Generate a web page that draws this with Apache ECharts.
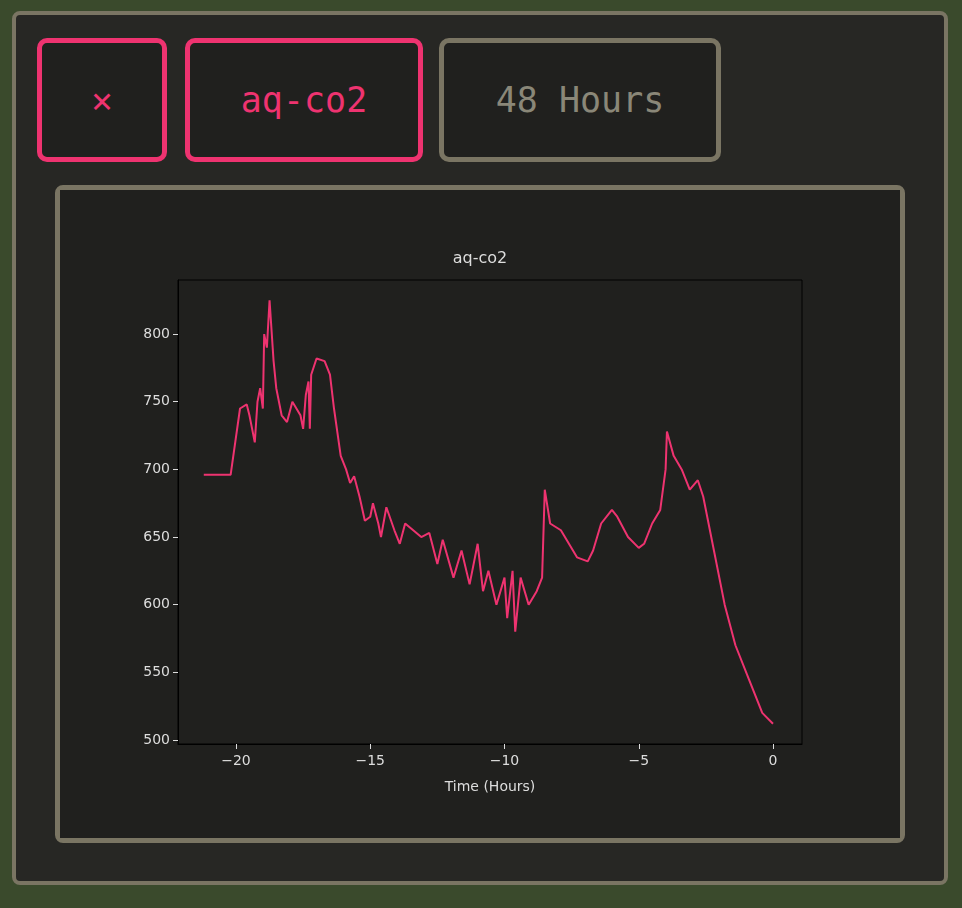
<!DOCTYPE html>
<html>
<head>
<meta charset="utf-8">
<script src="https://cdn.jsdelivr.net/npm/echarts@6/dist/echarts.min.js"></script>
<style>
  body { margin:0; width:962px; height:908px; background:#3a4a2c; font-family:"DejaVu Sans Mono",monospace; overflow:hidden; }
  .outer { position:absolute; left:12px; top:11px; width:928px; height:866px; background:#272724; border:4px solid #7a7563; border-radius:8px; }
  .btn { position:absolute; top:23px; height:124px; background:#20201e; border:5px solid #ee3370; border-radius:10px; color:#ee3370; font-size:35px; display:flex; align-items:center; justify-content:center; box-sizing:border-box; }
  .grey { border-color:#7a7563; color:#8a8778; }
  .panel { position:absolute; left:39px; top:170px; width:840px; height:648px; background:#20201e; border:5px solid #7a7563; border-radius:8px; }
  #chart { width:840px; height:648px; }
</style>
</head>
<body>
<div class="outer">
  <div class="btn" style="left:21px;width:130px;">&#x2715;</div>
  <div class="btn" style="left:169px;width:238px;">aq-co2</div>
  <div class="btn grey" style="left:423px;width:282px;">48 Hours</div>
  <div class="panel"><div id="chart"></div></div>
</div>
<script>
var hours = [-21.2,-20.2,-19.85,-19.6,-19.5,-19.3,-19.2,-19.1,-19.0,-18.95,-18.85,-18.75,-18.6,-18.5,-18.3,-18.1,-17.9,-17.6,-17.5,-17.4,-17.3,-17.25,-17.2,-17.0,-16.7,-16.5,-16.35,-16.1,-15.9,-15.75,-15.6,-15.4,-15.2,-15.0,-14.9,-14.7,-14.6,-14.4,-14.1,-13.9,-13.7,-13.4,-13.1,-12.8,-12.5,-12.3,-11.9,-11.6,-11.3,-11.0,-10.8,-10.6,-10.3,-10.0,-9.9,-9.7,-9.6,-9.4,-9.1,-8.8,-8.6,-8.5,-8.3,-7.9,-7.6,-7.3,-6.9,-6.7,-6.4,-6.0,-5.8,-5.4,-5.0,-4.8,-4.5,-4.2,-4.0,-3.95,-3.7,-3.4,-3.1,-2.8,-2.6,-2.2,-1.8,-1.4,-0.9,-0.4,0];
var co2 = [696,696,745,748,740,720,750,760,745,800,790,825,780,760,740,735,750,740,730,755,765,730,770,782,780,770,745,710,700,690,695,680,662,665,675,660,650,672,655,645,660,655,650,653,630,648,620,640,615,645,610,625,600,620,590,625,580,620,600,610,620,685,660,655,645,635,632,640,660,670,665,650,642,645,660,670,700,728,710,700,685,692,680,640,600,570,545,520,512];
var xTicks = [-20,-15,-10,-5,0];
var yTicks = [500,550,600,650,700,750,800];

var chart = echarts.init(document.getElementById('chart'));
chart.setOption({
  backgroundColor:'#20201e',
  title:{ text:'aq-co2', left:'center', top:56, textStyle:{ color:'#dddddd', fontFamily:'DejaVu Sans', fontSize:16, fontWeight:'normal' } },
  grid:{ left:118, top:90, width:624, height:464, show:true, borderColor:'#000', borderWidth:1 },
  xAxis:{ type:'value', min:-22.16, max:1.08, name:'Time (Hours)', nameLocation:'middle', nameGap:36,
    nameTextStyle:{ color:'#dddddd', fontFamily:'DejaVu Sans', fontSize:14 },
    axisLine:{ onZero:false, lineStyle:{ color:'#000' } },
    axisTick:{ show:true, length:5, customValues:xTicks, lineStyle:{ color:'#ddd' } },
    splitLine:{ show:false },
    axisLabel:{ color:'#ddd', fontFamily:'DejaVu Sans', fontSize:14, margin:10,
      customValues:xTicks, formatter:function(v){ return String(v).replace('-','\u2212'); } }
  },
  yAxis:{ type:'value', min:497, max:840,
    axisLine:{ show:true, onZero:false, lineStyle:{ color:'#000' } },
    splitLine:{ show:false },
    axisLabel:{ color:'#ddd', fontFamily:'DejaVu Sans', fontSize:14, customValues:yTicks },
    axisTick:{ show:true, length:5, customValues:yTicks, lineStyle:{ color:'#ddd' } }
  },
  series:[{ type:'line', showSymbol:false, data:hours.map(function(h,i){ return [h, co2[i]]; }),
    lineStyle:{ color:'#ee3370', width:2 } }]
});
</script>
</body>
</html>
